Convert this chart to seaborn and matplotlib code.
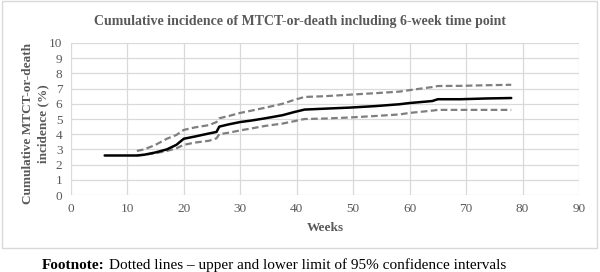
import matplotlib
matplotlib.use("Agg")
import matplotlib.pyplot as plt
import seaborn as sns
import pandas as pd
from matplotlib.patches import Rectangle

# Data
weeks = [6, 11.7, 13, 15, 17, 18.7, 20, 22, 24.5, 25.8, 26.3, 28, 30, 32, 34.5, 37.5,
         39.5, 41.4, 45, 49.4, 54, 58.2, 60, 64, 65, 69, 73.6, 78]
incidence = [2.6, 2.6, 2.65, 2.8, 3.0, 3.3, 3.7, 3.85, 4.05, 4.15, 4.5, 4.65, 4.8, 4.9,
             5.05, 5.25, 5.45, 5.62, 5.68, 5.75, 5.85, 5.97, 6.05, 6.18, 6.3, 6.3, 6.35, 6.38]
ci_weeks = weeks[1:]
upper_ci = [2.9, 3.0, 3.3, 3.7, 3.95, 4.28, 4.45, 4.6, 4.8, 5.05, 5.2, 5.4, 5.55, 5.75,
            6.0, 6.25, 6.45, 6.5, 6.6, 6.7, 6.8, 6.9, 7.1, 7.17, 7.18, 7.22, 7.25]
lower_ci = [2.6, 2.65, 2.75, 2.9, 3.07, 3.3, 3.45, 3.57, 3.73, 4.0, 4.1, 4.25, 4.38, 4.55,
            4.7, 4.85, 5.0, 5.03, 5.1, 5.2, 5.3, 5.4, 5.55, 5.6, 5.6, 5.6, 5.6]

sns.set_style("white")
plt.rcParams['font.family'] = ['Liberation Serif', 'DejaVu Serif']

grey = '#595959'

fig = plt.figure(figsize=(6, 2.72), dpi=100)
# light border around the chart area (footnote sits outside it)
fig.patches.append(Rectangle((0.003, 0.088), 0.992, 0.908, transform=fig.transFigure,
                             fill=False, edgecolor='#d9d9d9', linewidth=1))
ax = fig.add_axes([0.118, 0.283, 0.847, 0.559])

main_df = pd.DataFrame({'Weeks': weeks, 'Incidence': incidence})
up_df = pd.DataFrame({'Weeks': ci_weeks, 'Incidence': upper_ci})
lo_df = pd.DataFrame({'Weeks': ci_weeks, 'Incidence': lower_ci})

dash = (0, (3, 1.5))
sns.lineplot(data=up_df, x='Weeks', y='Incidence', ax=ax, color='#7f7f7f',
             linestyle=dash, linewidth=1.6, estimator=None, sort=False)
sns.lineplot(data=lo_df, x='Weeks', y='Incidence', ax=ax, color='#7f7f7f',
             linestyle=dash, linewidth=1.6, estimator=None, sort=False)
sns.lineplot(data=main_df, x='Weeks', y='Incidence', ax=ax, color='black',
             linewidth=1.8, estimator=None, sort=False)

ax.set_xlim(0, 90)
ax.set_ylim(0, 10)
ax.set_xticks(range(0, 91, 10))
ax.set_yticks(range(0, 11, 1))
ax.grid(True, color='#d9d9d9', linewidth=0.9)
ax.set_axisbelow(True)
for s in ax.spines.values():
    s.set_visible(False)
ax.tick_params(axis='both', length=0, labelsize=9.5, colors=grey, pad=6)

ax.set_xlabel('Weeks', fontsize=9.5, fontweight='bold', color=grey, labelpad=5)
ax.set_ylabel('Cumulative MTCT-or-death\nincidence (%)', fontsize=9.5, fontweight='bold',
              color=grey, linespacing=1.35, va='center')
ax.yaxis.set_label_coords(-0.07, 0.47)

fig.text(0.5, 0.922, 'Cumulative incidence of MTCT-or-death including 6-week time point',
         ha='center', va='center', fontsize=10, fontweight='bold', color=grey)

# Footnote: bold lead-in followed by regular text
t1 = fig.text(0.07, 0.012, 'Footnote:', fontsize=11, fontweight='bold', color='black')
fig.canvas.draw()
bb = t1.get_window_extent()
fig.text(bb.x1 / fig.bbox.width + 0.007, 0.012,
         'Dotted lines \u2013 upper and lower limit of 95% confidence intervals',
         fontsize=11, color='black')

plt.savefig('out.png', dpi=100)
plt.close()
